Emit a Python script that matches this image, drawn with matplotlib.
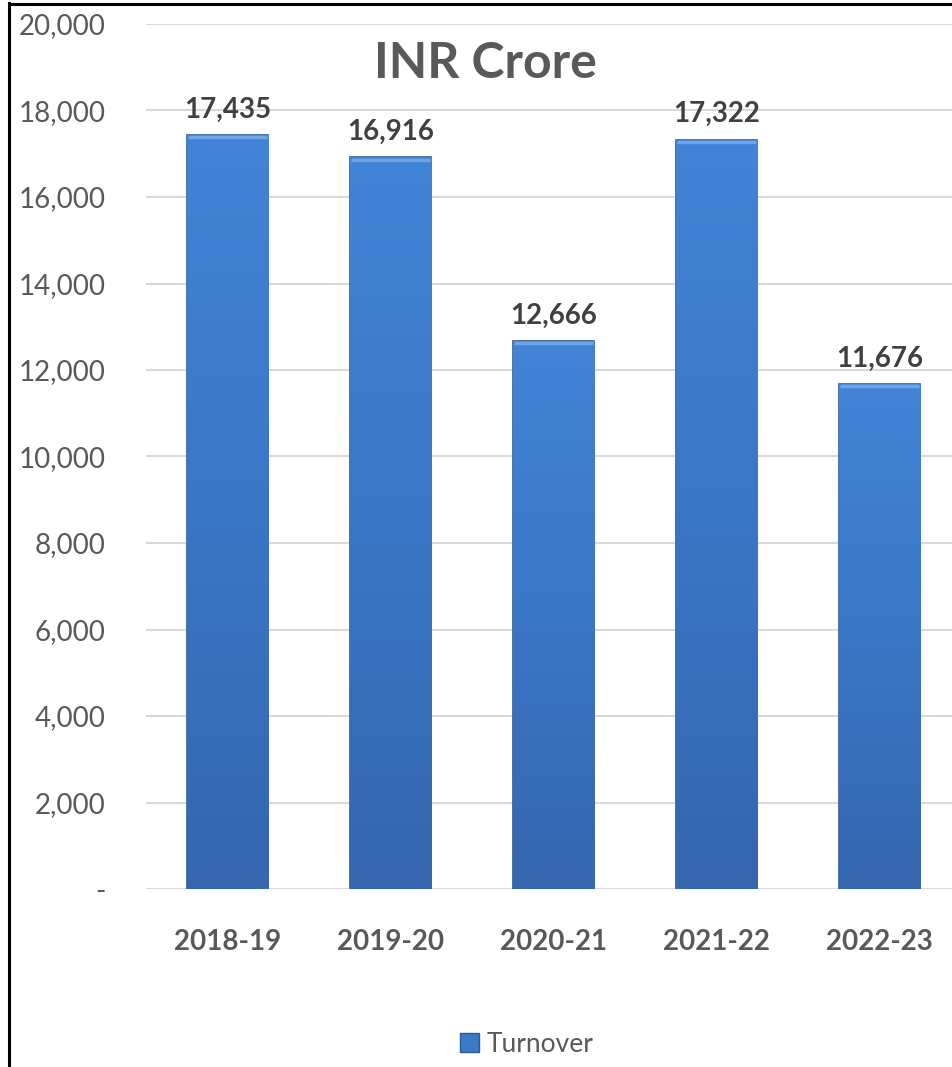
import numpy as np
import matplotlib.pyplot as plt
from matplotlib.lines import Line2D
from matplotlib.patches import Patch
from matplotlib.colors import LinearSegmentedColormap

years = ['2018-19', '2019-20', '2020-21', '2021-22', '2022-23']
turnover = [17435, 16916, 12666, 17322, 11676]
yticks = [0, 2000, 4000, 6000, 8000, 10000, 12000, 14000, 16000, 18000, 20000]

plt.rcParams['font.family'] = ['Lato', 'DejaVu Sans']
grey = '#595959'

fig = plt.figure(figsize=(9.52, 10.67), dpi=100)
ax = fig.add_axes([146/952, 1 - 889/1067, 815/952, 865/1067])

x = np.arange(len(years))
bars = ax.bar(x, turnover, width=0.5, color='#3C79C8', edgecolor='#2C5A96',
              linewidth=1.2, zorder=3)

# vertical gradient inside each bar
grad = np.linspace(0, 1, 256).reshape(-1, 1)
cmap = LinearSegmentedColormap.from_list('b', ['#3566AE', '#3A76C6', '#4284D6'])
for b in bars:
    bx, by = b.get_x(), b.get_y()
    w, h = b.get_width(), b.get_height()
    im = ax.imshow(grad, cmap=cmap, aspect='auto', origin='lower',
                   extent=[bx, bx + w, by, by + h], zorder=3.5)
    im.set_clip_path(b)
    # light bevel on top
    ax.plot([bx + 0.01, bx + w - 0.01], [by + h - 50, by + h - 50],
            color='#6FA3E6', lw=2.5, zorder=4, solid_capstyle='butt')

for xi, v in zip(x, turnover):
    ax.annotate(f'{v:,}', (xi, v), xytext=(0, 9), textcoords='offset points',
                ha='center', va='bottom', fontsize=20, fontweight='bold', color='#404040')

ax.set_xlim(-0.5, len(years) - 0.5)
ax.set_ylim(0, 20000)
ax.set_yticks(yticks)
ax.set_yticklabels(['-' if t == 0 else f'{t:,}' for t in yticks])
ax.set_xticks(x)
ax.set_xticklabels(years, fontweight='bold')
ax.tick_params(axis='y', length=0, pad=29, labelsize=20, labelcolor=grey)
ax.tick_params(axis='x', length=0, pad=29, labelsize=20, labelcolor=grey)
ax.grid(axis='y', color='#D9D9D9', lw=1.5, zorder=0)
for s in ax.spines.values():
    s.set_visible(False)

fig.text(485/952, 1 - 63/1067, 'INR Crore', ha='center', va='center',
         fontsize=36, fontweight='bold', color=grey)

fig.legend(handles=[Patch(facecolor='#3C79C8', edgecolor='#2C5A96')], labels=['Turnover'],
           loc='center', bbox_to_anchor=(527/952, 1 - 1044/1067), frameon=False,
           fontsize=19, labelcolor=grey, handlelength=0.7, handleheight=0.7,
           handletextpad=0.3)

# frame lines on the left and top
fig.add_artist(Line2D([9/952, 9/952], [0, 1 - 3/1067], color='black', lw=2.2))
fig.add_artist(Line2D([9/952, 1], [1 - 4/1067, 1 - 4/1067], color='black', lw=2.2))

fig.savefig('out.png', dpi=100)
